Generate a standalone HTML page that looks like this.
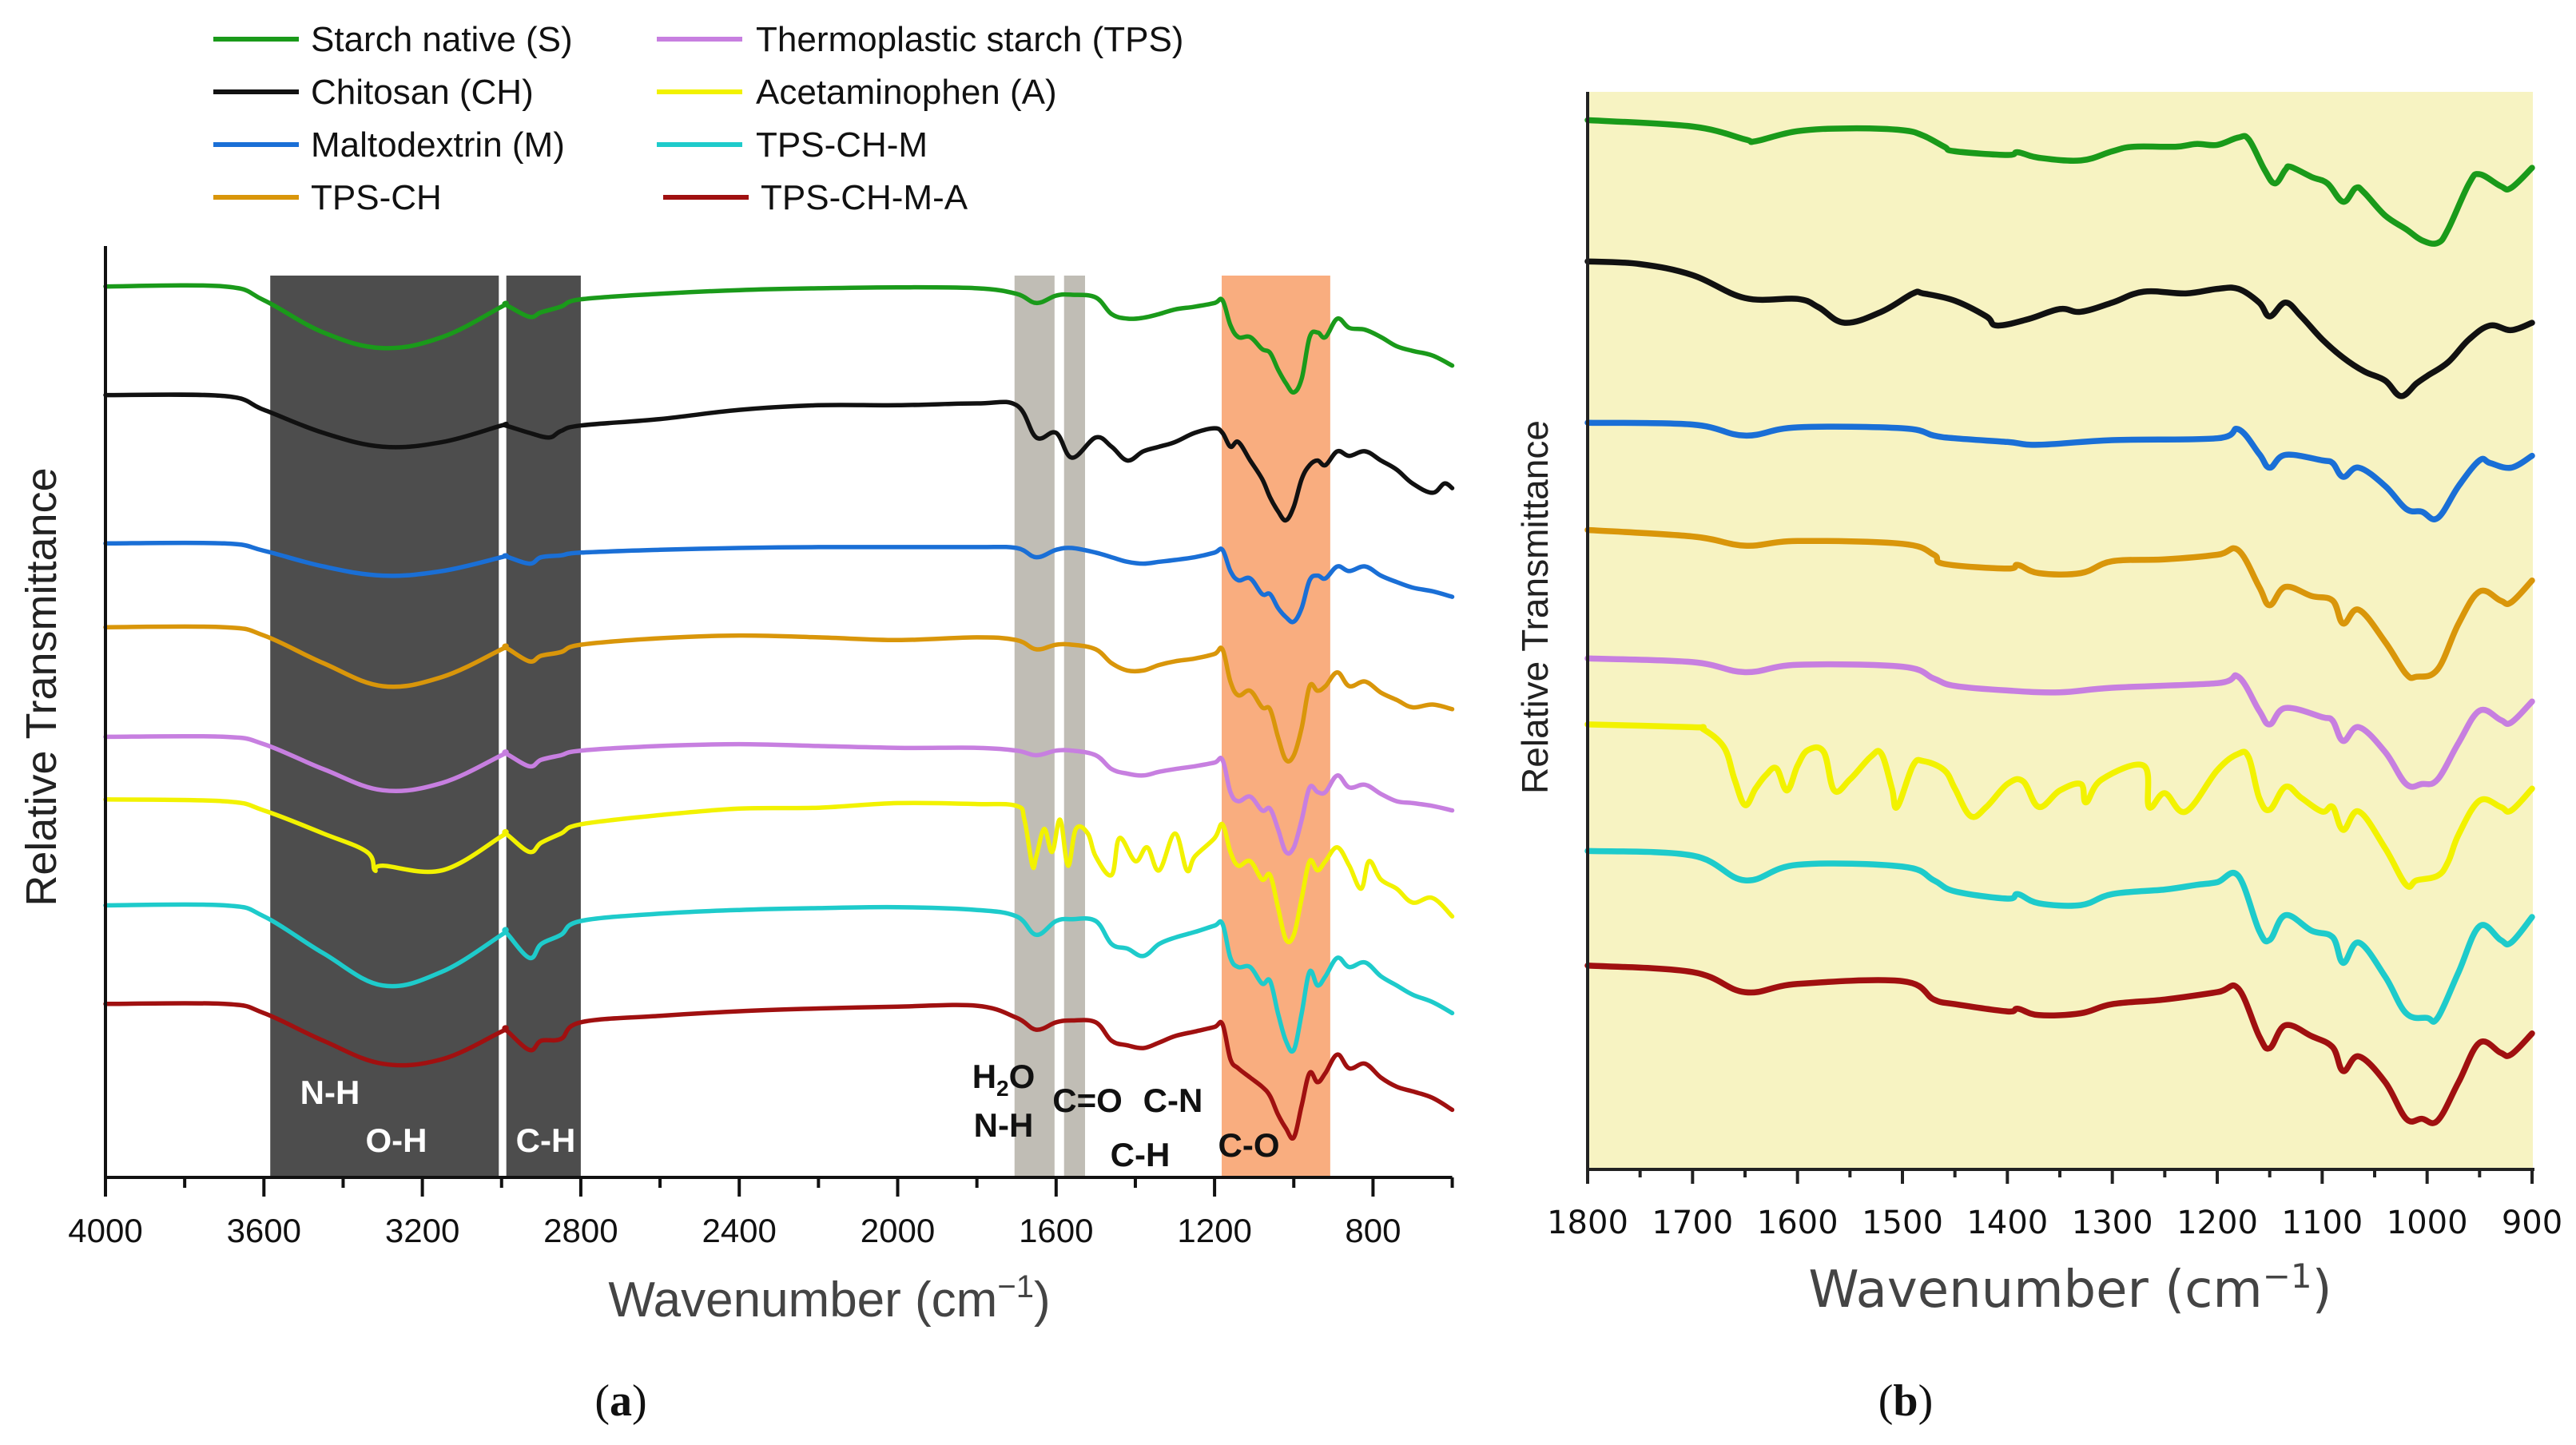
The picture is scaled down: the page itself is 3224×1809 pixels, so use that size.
<!DOCTYPE html>
<html><head><meta charset="utf-8"><style>
html,body{margin:0;padding:0;background:#fff;}
svg{display:block;font-family:"Liberation Sans",sans-serif;}
</style></head><body>
<svg id="fig" width="3224" height="1809" viewBox="0 0 3224 1809" xmlns="http://www.w3.org/2000/svg">
<g id="legend" font-size="44" fill="#111">
  <g><line x1="267" y1="49" x2="374" y2="49" stroke="#1a9a1a" stroke-width="6"/><text x="389" y="64">Starch native (S)</text></g>
  <g><line x1="267" y1="115" x2="374" y2="115" stroke="#111" stroke-width="6"/><text x="389" y="130">Chitosan (CH)</text></g>
  <g><line x1="267" y1="181" x2="374" y2="181" stroke="#1a6fd6" stroke-width="6"/><text x="389" y="196">Maltodextrin (M)</text></g>
  <g><line x1="267" y1="247" x2="374" y2="247" stroke="#d9960a" stroke-width="6"/><text x="389" y="262">TPS-CH</text></g>
  <g><line x1="822" y1="49" x2="929" y2="49" stroke="#c77fe0" stroke-width="6"/><text x="946" y="64">Thermoplastic starch (TPS)</text></g>
  <g><line x1="822" y1="115" x2="929" y2="115" stroke="#f2f200" stroke-width="6"/><text x="946" y="130">Acetaminophen (A)</text></g>
  <g><line x1="822" y1="181" x2="929" y2="181" stroke="#1ecbcb" stroke-width="6"/><text x="946" y="196">TPS-CH-M</text></g>
  <g><line x1="830" y1="247" x2="937" y2="247" stroke="#a01010" stroke-width="6"/><text x="952" y="262">TPS-CH-M-A</text></g>
</g>
<g id="panelA"></g>
<g id="panelB"></g>
</svg>
<script>
// ---------- Panel A data ----------
const gridA = [4000,3700,3600,3450,3300,3150,3000,2990,2930,2900,2850,2800,2600,2400,2200,2000,1800,1700,1650,1600,1560,1500,1460,1420,1380,1340,1300,1250,1200,1180,1160,1140,1110,1080,1060,1040,1020,1000,980,960,940,920,890,860,820,780,740,700,650,600];
const aStarch = [311,311,326,361,378,366,333,331,344,339,333,325,319,315,313,312,313,319,329,321,320,323,341,346,345,341,336,333,329,326,353,366,366,379,383,401,416,426,411,366,361,366,346,356,358,366,376,381,386,397];
const aMalto = [590,590,598,615,625,620,605,604,612,605,603,600,597,595,594,594,594,595,605,597,595,600,605,610,612,610,608,605,600,597,620,630,628,645,645,660,670,675,660,630,625,628,615,620,615,625,632,638,642,648];
const aTpsCh = [681,681,690,720,745,735,705,703,718,712,708,700,693,690,692,695,692,695,705,700,700,705,720,728,728,722,718,715,710,705,740,755,750,768,770,800,825,820,790,745,750,745,730,745,740,752,760,768,765,770];
const aTps = [800,800,808,835,858,850,820,818,832,825,820,815,810,808,810,812,812,815,820,815,815,820,835,840,842,838,835,832,828,825,860,870,865,880,878,900,925,920,890,855,860,860,842,855,852,862,870,872,875,880];
const aTpsChM = [983,983,995,1035,1070,1055,1015,1012,1040,1025,1015,1000,992,988,986,985,988,995,1015,1000,998,1000,1025,1030,1038,1025,1018,1012,1005,1003,1040,1050,1050,1068,1065,1100,1130,1140,1100,1055,1070,1060,1040,1050,1045,1060,1070,1080,1088,1100];
const aTpsChMA = [1090,1090,1100,1130,1155,1150,1120,1118,1140,1130,1128,1110,1103,1098,1095,1093,1092,1105,1118,1110,1108,1110,1130,1135,1138,1132,1125,1120,1115,1112,1150,1160,1170,1180,1190,1210,1225,1235,1200,1165,1175,1165,1145,1160,1155,1170,1180,1185,1192,1205];
const aChitoWn = [4000,3700,3600,3450,3300,3150,3000,2990,2930,2880,2850,2800,2600,2400,2200,2000,1800,1700,1650,1600,1560,1500,1460,1420,1380,1340,1300,1250,1200,1180,1160,1140,1110,1080,1060,1040,1020,1000,980,960,940,920,890,860,820,780,740,700,650,620,600];
const aChito = [429,430,445,470,485,480,462,462,470,475,468,462,455,445,440,440,438,440,475,470,497,475,485,500,490,485,480,470,465,470,485,480,500,520,540,555,565,550,520,505,500,505,490,495,490,500,510,525,535,525,530];
const aAcetWn = [4000,3700,3600,3450,3340,3320,3300,3150,3000,2990,2930,2900,2850,2800,2600,2400,2200,2000,1800,1700,1680,1660,1650,1630,1610,1590,1570,1550,1520,1500,1460,1440,1400,1370,1340,1300,1270,1250,1200,1180,1160,1140,1110,1080,1060,1040,1020,1000,980,960,940,920,890,860,830,810,780,740,700,650,600];
const aAcet = [868,870,880,905,925,945,940,945,908,905,925,915,905,895,885,878,877,872,873,875,890,940,930,900,925,890,940,900,905,930,950,910,935,920,945,905,945,930,910,895,925,940,935,955,950,985,1020,1015,975,935,945,935,920,940,965,935,955,965,980,975,995];
const ticksA = [4000,3600,3200,2800,2400,2000,1600,1200,800];

// ---------- Panel B data ----------
const bStarchWn = [1800,1700,1650,1640,1600,1550,1500,1480,1460,1450,1400,1390,1370,1330,1300,1280,1240,1220,1200,1180,1170,1155,1145,1135,1130,1110,1095,1080,1068,1060,1040,1020,1005,990,980,960,950,930,920,900];
const bStarch = [131,138,152,154,143,140,142,148,160,165,169,166,172,175,165,160,160,157,158,150,152,185,200,185,182,193,200,220,205,210,235,250,262,265,250,200,190,203,205,183];
const bChitoWn = [1800,1750,1700,1650,1600,1580,1555,1520,1490,1480,1450,1420,1410,1380,1350,1330,1300,1270,1230,1200,1180,1160,1150,1135,1120,1100,1080,1060,1040,1025,1010,1000,980,960,940,920,900];
const bChito = [285,288,300,325,326,335,352,340,320,320,328,345,355,348,337,340,330,318,320,315,315,330,345,330,345,370,390,405,415,432,418,410,395,370,355,360,352];
const bMaltoWn = [1800,1700,1650,1600,1500,1470,1450,1400,1370,1300,1200,1180,1160,1150,1135,1100,1090,1080,1065,1040,1020,1005,990,970,950,940,920,900];
const bMalto = [461,463,475,466,467,475,478,482,485,480,478,468,495,510,496,502,505,520,510,530,555,558,565,530,502,505,510,497];
const bTpsChWn = [1800,1700,1650,1600,1500,1470,1460,1400,1390,1370,1330,1300,1250,1200,1180,1160,1150,1135,1110,1090,1080,1065,1040,1020,1010,990,970,950,930,920,900];
const bTpsCh = [578,585,595,590,593,605,615,620,616,625,625,612,610,605,600,640,660,640,650,655,680,665,700,735,738,730,680,645,655,657,633];
const bTpsWn = [1800,1700,1650,1600,1500,1470,1450,1400,1350,1300,1200,1180,1160,1150,1135,1100,1090,1080,1065,1040,1020,1005,990,970,950,930,920,900];
const bTps = [718,722,733,725,727,740,748,753,755,750,745,738,775,790,772,782,786,808,793,820,855,855,850,810,775,785,788,765];
const bAcetWn = [1800,1700,1690,1670,1660,1650,1640,1630,1620,1610,1600,1590,1575,1565,1550,1530,1520,1510,1505,1490,1480,1460,1450,1435,1420,1400,1385,1370,1350,1330,1325,1310,1270,1265,1250,1230,1200,1180,1170,1160,1150,1135,1120,1100,1090,1080,1065,1040,1020,1010,990,980,970,950,930,920,900];
const bAcet = [790,793,795,815,850,878,860,845,838,862,835,818,820,862,850,825,822,860,880,835,830,840,860,890,880,855,852,880,862,855,875,850,835,880,865,885,840,822,826,870,883,858,870,885,880,905,885,925,965,960,955,940,910,873,880,884,860];
const bTpsChMWn = [1800,1700,1650,1600,1500,1470,1450,1400,1390,1370,1330,1300,1250,1220,1200,1180,1160,1150,1135,1110,1090,1080,1065,1040,1020,1000,990,970,950,930,920,900];
const bTpsChM = [928,933,960,943,945,960,972,980,975,985,987,975,970,965,962,955,1015,1025,998,1015,1022,1050,1028,1065,1105,1110,1110,1060,1010,1025,1028,1000];
const bTpsChMAWn = [1800,1700,1650,1600,1500,1470,1450,1400,1390,1370,1330,1300,1250,1200,1180,1160,1150,1135,1110,1090,1080,1065,1040,1020,1005,990,970,950,930,920,900];
const bTpsChMA = [1053,1060,1082,1073,1070,1090,1095,1103,1100,1107,1105,1095,1090,1082,1078,1130,1143,1118,1130,1142,1168,1152,1180,1220,1220,1222,1180,1137,1148,1150,1127];
const ticksB = [1800,1700,1600,1500,1400,1300,1200,1100,1000,900];

const NS = "http://www.w3.org/2000/svg";
function mk(parent, tag, attrs, text){
  const e = document.createElementNS(NS, tag);
  for (const k in attrs) e.setAttribute(k, attrs[k]);
  if (text !== undefined) e.textContent = text;
  parent.appendChild(e);
  return e;
}
function smoothPath(pts){
  let d = "M" + pts[0][0].toFixed(1) + "," + pts[0][1].toFixed(1);
  for (let i = 0; i < pts.length - 1; i++){
    const p0 = pts[Math.max(0,i-1)], p1 = pts[i], p2 = pts[i+1], p3 = pts[Math.min(pts.length-1,i+2)];
    const t = 0.18;
    const c1x = p1[0] + (p2[0]-p0[0])*t, c1y = p1[1] + (p2[1]-p0[1])*t;
    const c2x = p2[0] - (p3[0]-p1[0])*t, c2y = p2[1] - (p3[1]-p1[1])*t;
    d += " C" + c1x.toFixed(1)+","+c1y.toFixed(1)+" "+c2x.toFixed(1)+","+c2y.toFixed(1)+" "+p2[0].toFixed(1)+","+p2[1].toFixed(1);
  }
  return d;
}

// ---------- Panel A ----------
const A = document.getElementById("panelA");
const xA = wn => 132 + (4000 - wn) * 198.3 / 400;
const yA = v => v * 1.153;
const axA = {top: 308, bottom: 1474, left: 132, right: xA(600)};
function bandA(w1, w2, color, name){
  const r = mk(A, "rect", {x: xA(w1), y: 345, width: xA(w2) - xA(w1), height: axA.bottom - 345, fill: color});
  
  
}
bandA(3584, 3007, "#4d4d4d", "oh-nh-band");
bandA(2988, 2800, "#4d4d4d", "ch-band");
bandA(1705, 1604, "#c0bdb5", "h2o-nh-band");
bandA(1580, 1527, "#c0bdb5", "co-band");
bandA(1182, 908, "#f9ad7f", "c-o-band");

const seriesA = [
  ["starch-native", gridA, aStarch, "#1a9a1a"],
  ["chitosan", aChitoWn, aChito, "#111111"],
  ["maltodextrin", gridA, aMalto, "#1a6fd6"],
  ["tps-ch", gridA, aTpsCh, "#d9960a"],
  ["tps", gridA, aTps, "#c77fe0"],
  ["acetaminophen", aAcetWn, aAcet, "#f2f200"],
  ["tps-ch-m", gridA, aTpsChM, "#1ecbcb"],
  ["tps-ch-m-a", gridA, aTpsChMA, "#a01010"]
];
seriesA.forEach(s => {
  const pts = s[1].map((w, i) => [xA(w), yA(s[2][i])]);
  const p = mk(A, "path", {d: smoothPath(pts), fill: "none", stroke: s[3], "stroke-width": 5.5, "stroke-linejoin": "round", "stroke-linecap": "round"});
  
  
});

const axisA = mk(A, "g", {stroke: "#111", "stroke-width": 4});


mk(axisA, "line", {x1: axA.left, y1: axA.top, x2: axA.left, y2: axA.bottom + 2});
mk(axisA, "line", {x1: axA.left - 2, y1: axA.bottom, x2: axA.right, y2: axA.bottom});
for (let w = 4000; w >= 600; w -= 200){
  const major = (w % 400 === 0);
  mk(axisA, "line", {x1: xA(w), y1: axA.bottom, x2: xA(w), y2: axA.bottom + (major ? 24 : 13)});
}
ticksA.forEach(w => {
  const t = mk(A, "text", {x: xA(w), y: 1555, "font-size": 42, "text-anchor": "middle", fill: "#111"}, String(w));
  
  
});
const labsA = [
  ["N-H", 413, 1382, "#fff"], ["O-H", 496, 1442, "#fff"], ["C-H", 683, 1442, "#fff"],
  ["N-H", 1256, 1423, "#111"], ["C=O", 1361, 1392, "#111"], ["C-N", 1468, 1392, "#111"],
  ["C-H", 1427, 1460, "#111"], ["C-O", 1563, 1448, "#111"]
];
labsA.forEach(l => {
  const t = mk(A, "text", {x: l[1], y: l[2], "font-size": 42, "font-weight": "bold", "text-anchor": "middle", fill: l[3]}, l[0]);
  
  
});
const h2o = mk(A, "text", {x: 1256, y: 1362, "font-size": 42, "font-weight": "bold", "text-anchor": "middle", fill: "#111"});


h2o.innerHTML = 'H<tspan font-size="28" dy="10">2</tspan><tspan dy="-10">O</tspan>';
const xtA = mk(A, "text", {x: 1038, y: 1648, "font-size": 62, "text-anchor": "middle", fill: "#444"});


xtA.innerHTML = 'Wavenumber (cm<tspan font-size="40" dy="-24">−1</tspan><tspan dy="24">)</tspan>';
const ytA = mk(A, "text", {x: 0, y: 0, "font-size": 54, "text-anchor": "middle", fill: "#222", transform: "translate(70,860) rotate(-90)"}, "Relative Transmittance");


const capA = mk(A, "text", {x: 777, y: 1772, "font-size": 56, "text-anchor": "middle", fill: "#111", "font-family": "Liberation Serif, serif"});


capA.innerHTML = '(<tspan font-weight="bold">a</tspan>)';

// ---------- Panel B ----------
const B = document.getElementById("panelB");
const xB = wn => 1987 + (1800 - wn) * 1182 / 900;
const yB = v => v * 1.148;
const bg = mk(B, "rect", {x: 1987, y: 115, width: 1183, height: 1349, fill: "#f7f3c2"});


const seriesB = [
  ["starch-native", bStarchWn, bStarch, "#1a9a1a"],
  ["chitosan", bChitoWn, bChito, "#111111"],
  ["maltodextrin", bMaltoWn, bMalto, "#1a6fd6"],
  ["tps-ch", bTpsChWn, bTpsCh, "#d9960a"],
  ["tps", bTpsWn, bTps, "#c77fe0"],
  ["acetaminophen", bAcetWn, bAcet, "#f2f200"],
  ["tps-ch-m", bTpsChMWn, bTpsChM, "#1ecbcb"],
  ["tps-ch-m-a", bTpsChMAWn, bTpsChMA, "#a01010"]
];
seriesB.forEach(s => {
  const pts = s[1].map((w, i) => [xB(w), yB(s[2][i])]);
  const p = mk(B, "path", {d: smoothPath(pts), fill: "none", stroke: s[3], "stroke-width": 7.5, "stroke-linejoin": "round", "stroke-linecap": "round"});
  
  
});
const axisB = mk(B, "g", {stroke: "#222", "stroke-width": 4});


mk(axisB, "line", {x1: 1987, y1: 115, x2: 1987, y2: 1466});
mk(axisB, "line", {x1: 1985, y1: 1464, x2: 3172, y2: 1464});
for (let w = 1800; w >= 900; w -= 50){
  const major = (w % 100 === 0);
  mk(axisB, "line", {x1: xB(w), y1: 1464, x2: xB(w), y2: 1464 + (major ? 18 : 10)});
}
ticksB.forEach(w => {
  const t = mk(B, "text", {x: xB(w), y: 1544, "font-size": 40, "text-anchor": "middle", fill: "#111", "font-family": "DejaVu Sans, sans-serif"}, String(w));
  
  
});
const xtB = mk(B, "text", {x: 2591, y: 1636, "font-size": 64, "text-anchor": "middle", fill: "#444", "font-family": "DejaVu Sans, sans-serif"});


xtB.innerHTML = 'Wavenumber (cm<tspan font-size="42" dy="-24">−1</tspan><tspan dy="24">)</tspan>';
const ytB = mk(B, "text", {x: 0, y: 0, "font-size": 46, "text-anchor": "middle", fill: "#222", transform: "translate(1937,760) rotate(-90)"}, "Relative Transmittance");


const capB = mk(B, "text", {x: 2385, y: 1772, "font-size": 56, "text-anchor": "middle", fill: "#111", "font-family": "Liberation Serif, serif"});


capB.innerHTML = '(<tspan font-weight="bold">b</tspan>)';
</script>
</body></html>
